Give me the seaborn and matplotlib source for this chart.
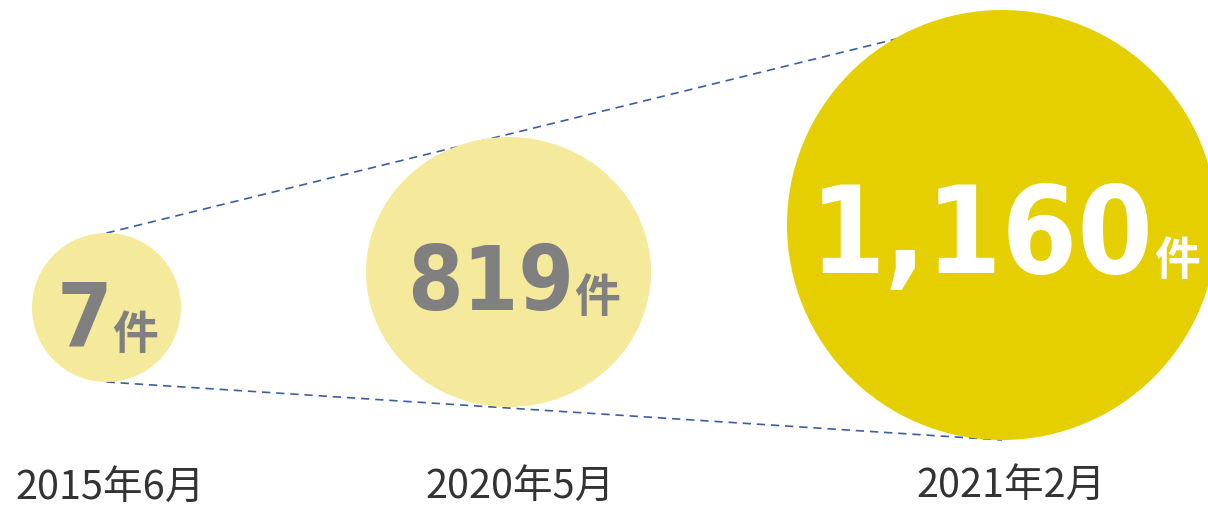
import matplotlib
matplotlib.use("Agg")
import matplotlib.pyplot as plt
from matplotlib.patches import Ellipse
import seaborn as sns
import pandas as pd

# ---- data ----
periods = ["2015年6月", "2020年5月", "2021年2月"]
counts = [7, 819, 1160]
unit = "件"

# ---- layout / style (pixels) ----
cx = [106.5, 508.5, 1002.0]
cy = [308.5, 273.0, 226.0]
rx = [74.5, 142.5, 215.0]
ry = [74.5, 135.0, 215.0]
fills = ["#F5EA9C", "#F5EA9C", "#E5CF00"]
txt_colors = ["#808080", "#808080", "#FFFFFF"]
num_sizes = [64, 64, 87]
unit_size = 33
base_off = [38.5, 37.0, 47.0]
grp_off = [1.0, 5.0, 3.0]
label_x = [110, 520, 1011]
label_y = [488, 487, 486]

sns.set_theme(style="white")
plt.rcParams["font.family"] = ["Noto Sans CJK JP", "DejaVu Sans"]

fig = plt.figure(figsize=(12.08, 5.06), dpi=100)
ax = fig.add_axes([0, 0, 1, 1])

# dashed connectors (behind circles)
i0, i2 = 0, 2
top = pd.DataFrame({"x": [cx[i0], cx[i2]], "y": [cy[i0] - ry[i0], cy[i2] - ry[i2] + 3]})
bot = pd.DataFrame({"x": [cx[i0], cx[i2]], "y": [cy[i0] + ry[i0], cy[i2] + ry[i2]]})
for df in (top, bot):
    sns.lineplot(data=df, x="x", y="y", ax=ax, color="#3A5FA0", lw=1.2,
                 linestyle=(0, (5, 3.5)), zorder=1, sort=False)
ax.set_xlim(0, 1208)
ax.set_ylim(506, 0)
ax.axis("off")

for i in range(3):
    ax.add_patch(Ellipse((cx[i], cy[i]), 2 * rx[i], 2 * ry[i],
                         facecolor=fills[i], edgecolor="none", zorder=2))

fig.canvas.draw()
r = fig.canvas.get_renderer()
for i in range(3):
    t1 = ax.text(0, 0, f"{counts[i]:,}", fontsize=num_sizes[i], fontweight="bold",
                 family="DejaVu Sans", fontstretch="condensed",
                 color=txt_colors[i], ha="left", va="baseline", zorder=3)
    t2 = ax.text(0, 0, unit, fontsize=unit_size, fontweight="bold",
                 family=["Noto Sans CJK JP"], color=txt_colors[i],
                 ha="left", va="baseline", zorder=3)
    w1 = t1.get_window_extent(r).width
    w2 = t2.get_window_extent(r).width
    gap = 0.5
    total = w1 + gap + w2
    x0 = cx[i] + grp_off[i] - total / 2
    yb = cy[i] + base_off[i]
    t1.set_position((x0, yb))
    t2.set_position((x0 + w1 + gap, yb + 2))

for i in range(3):
    ax.text(label_x[i], label_y[i], periods[i], fontsize=28.5, color="#333333",
            ha="center", va="center", zorder=3)

fig.savefig("out.png", dpi=100, facecolor="white")
